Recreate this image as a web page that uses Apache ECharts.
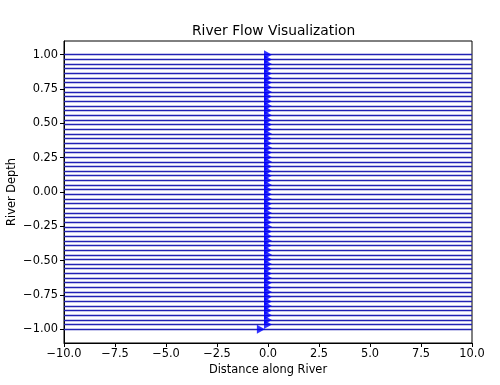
<!DOCTYPE html>
<html>
<head>
<meta charset="utf-8">
<script src="https://cdn.jsdelivr.net/npm/echarts@6/dist/echarts.min.js"></script>
<style>html,body{margin:0;padding:0;background:#fff}#c{width:500px;height:385px}</style>
</head>
<body>
<div id="c"></div>
<script>
// Streamline depths (y)
const lineDepths = [
 -1.000,-0.966,-0.932,-0.898,-0.864,-0.831,-0.797,-0.763,-0.729,-0.695,
 -0.661,-0.627,-0.593,-0.559,-0.525,-0.492,-0.458,-0.424,-0.390,-0.356,
 -0.322,-0.288,-0.254,-0.220,-0.186,-0.153,-0.119,-0.085,-0.051,-0.017,
  0.017, 0.051, 0.085, 0.119, 0.153, 0.186, 0.220, 0.254, 0.288, 0.322,
  0.356, 0.390, 0.424, 0.458, 0.492, 0.525, 0.559, 0.593, 0.627, 0.661,
  0.695, 0.729, 0.763, 0.797, 0.831, 0.864, 0.898, 0.932, 0.966, 1.000
];
// Arrow positions along each streamline
const arrowX = [
 -0.35, 0.00, 0.00, 0.00, 0.00, 0.00, 0.00, 0.00, 0.00, 0.00,
  0.00, 0.00, 0.00, 0.00, 0.00, 0.00, 0.00, 0.00, 0.00, 0.00,
  0.00, 0.00, 0.00, 0.00, 0.00, 0.00, 0.00, 0.00, 0.00, 0.00,
  0.00, 0.00, 0.00, 0.00, 0.00, 0.00, 0.00, 0.00, 0.00, 0.00,
  0.00, 0.00, 0.00, 0.00, 0.00, 0.00, 0.00, 0.00, 0.00, 0.00,
  0.00, 0.00, 0.00, 0.00, 0.00, 0.00, 0.00, 0.00, 0.00, 0.00
];
const xStart = -10, xEnd = 10;
const xTicks = [-10, -7.5, -5, -2.5, 0, 2.5, 5, 7.5, 10];
const yTicks = [-1, -0.75, -0.5, -0.25, 0, 0.25, 0.5, 0.75, 1];

const fmt = (v, d) => v.toFixed(d).replace('-', '\u2212');
const FONT = 'DejaVu Sans';

const chart = echarts.init(document.getElementById('c'), null, {renderer: 'canvas'});
chart.setOption({
  animation: false,
  backgroundColor: '#fff',
  title: {
    text: 'River Flow Visualization',
    left: 187, top: 19,
    textStyle: {fontFamily: FONT, fontSize: 13.8, fontWeight: 'normal', color: '#000'}
  },
  grid: {left: 64, top: 41, width: 408, height: 302, show: true, borderColor: '#000', borderWidth: 1,
         containLabel: false, outerBoundsMode: 'none'},
  xAxis: {
    type: 'value', min: -10, max: 10, interval: 2.5,
    name: 'Distance along River', nameLocation: 'middle', nameGap: 22, nameMoveOverlap: false,
    nameTextStyle: {fontFamily: FONT, fontSize: 11.4, color: '#000'},
    axisLine: {show: true, onZero: false, lineStyle: {color: '#000', width: 1}},
    axisTick: {show: true, length: 4, lineStyle: {color: '#000'}, customValues: xTicks},
    axisLabel: {fontFamily: FONT, fontSize: 11.4, color: '#000', margin: 6, customValues: xTicks, formatter: v => fmt(v, 1)},
    splitLine: {show: false}
  },
  yAxis: {
    type: 'value', min: -1.1, max: 1.1,
    name: 'River Depth', nameLocation: 'middle', nameGap: 46, nameMoveOverlap: false,
    nameTextStyle: {fontFamily: FONT, fontSize: 11.4, color: '#000'},
    axisLine: {show: true, onZero: false, lineStyle: {color: '#000', width: 1}},
    axisTick: {show: true, length: 4, lineStyle: {color: '#000'}, customValues: yTicks},
    axisLabel: {fontFamily: FONT, fontSize: 11.4, color: '#000', margin: 6, customValues: yTicks, formatter: v => fmt(v, 2)},
    splitLine: {show: false}
  },
  series: [
    {
      type: 'lines', coordinateSystem: 'cartesian2d', silent: true,
      lineStyle: {color: '#2222b4', width: 1.4, opacity: 1},
      data: lineDepths.map(y => ({coords: [[xStart, y], [xEnd, y]]}))
    },
    {
      type: 'scatter', silent: true,
      symbol: 'triangle', symbolRotate: -90, symbolSize: [9, 8],
      itemStyle: {color: '#0000ff'},
      data: lineDepths.map((y, i) => [arrowX[i], y])
    }
  ]
});
</script>
</body>
</html>
